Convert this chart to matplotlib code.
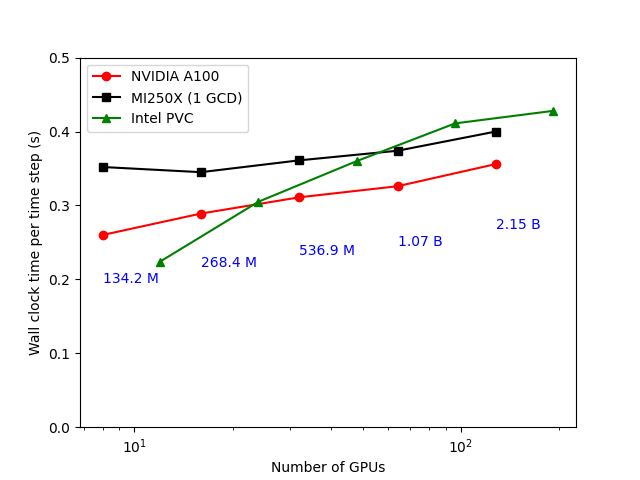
import matplotlib
matplotlib.use('Agg')
import matplotlib.pyplot as plt

gpus = [8, 16, 32, 64, 128]
a100 = [0.260, 0.289, 0.311, 0.326, 0.356]
mi250x = [0.352, 0.345, 0.361, 0.374, 0.400]

pvc_gpus = [12, 24, 48, 96, 192]
pvc = [0.224, 0.305, 0.360, 0.411, 0.428]

sizes = ['134.2 M', '268.4 M', '536.9 M', '1.07 B', '2.15 B']
size_y = [0.195, 0.217, 0.233, 0.245, 0.268]

fig, ax = plt.subplots(figsize=(6.4, 4.8), dpi=100)
ax.plot(gpus, a100, 'o-', color='red', label='NVIDIA A100')
ax.plot(gpus, mi250x, 's-', color='black', label='MI250X (1 GCD)')
ax.plot(pvc_gpus, pvc, '^-', color='green', label='Intel PVC')

for x, y, s in zip(gpus, size_y, sizes):
    ax.text(x, y, s, color='blue')

ax.set_xscale('log')
ax.set_ylim(0, 0.5)
ax.set_xlabel('Number of GPUs')
ax.set_ylabel('Wall clock time per time step (s)')
ax.legend(loc='upper left')

plt.savefig('out.png')
